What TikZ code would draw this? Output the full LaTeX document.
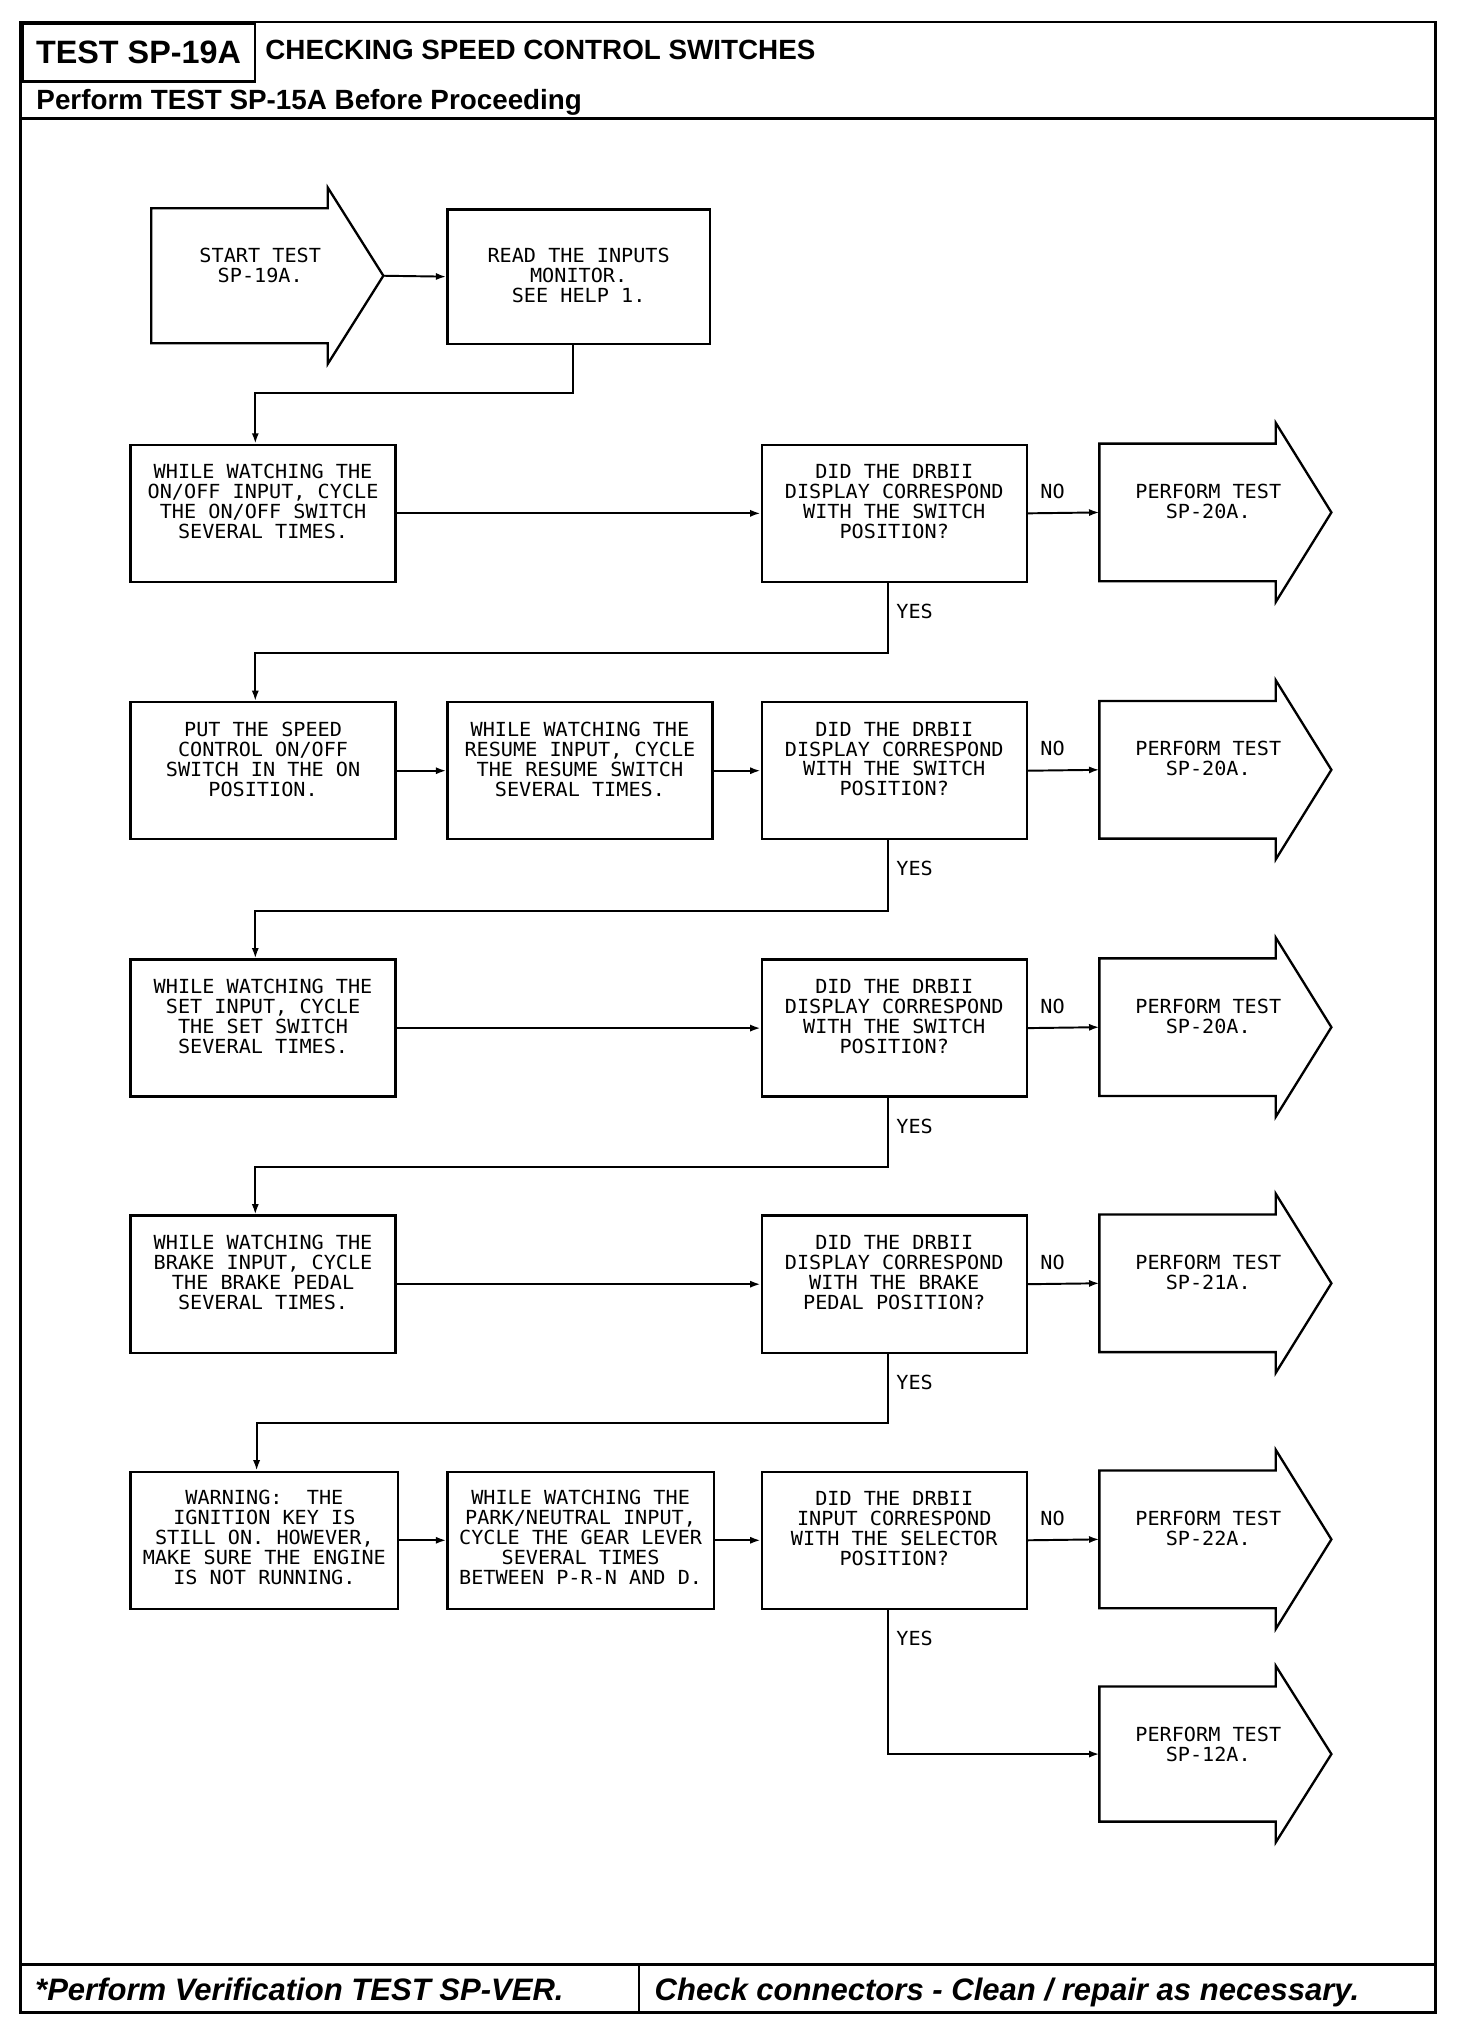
\documentclass[tikz,border=0pt]{standalone}
\usepackage{fontspec}
\usetikzlibrary{arrows.meta}
\newfontfamily\plotfont{DejaVu Sans Mono}[FakeStretch=1.04]
\newfontfamily\hfont{Liberation Sans}

\tikzset{
  frameline/.style={line width=2.2pt},
  shapeline/.style={line width=1.8pt, line join=miter},
  box/.style={draw, shapeline, anchor=north west, inner sep=0pt, minimum width=205pt, minimum height=106pt},
  pbody/.style={anchor=north west, inner sep=0pt, minimum width=136pt, minimum height=106pt},
  txt/.style={font=\plotfont\fontsize{15}{15.4}\selectfont, align=center, inner sep=0pt},
  lbl/.style={font=\plotfont\fontsize{15}{15.4}\selectfont, inner sep=0pt},
  conn/.style={line width=1.5pt, -{Latex[length=8pt,width=5.5pt]}},
  hdr/.style={inner sep=0pt, font=\hfont\bfseries\fontsize{21.5}{24}\selectfont},
  ftr/.style={inner sep=0pt, anchor=base west, font=\hfont\bfseries\itshape\fontsize{24}{28}\selectfont},
}

% name, x, y(top), width, height, text offset, text
\newcommand\FBox[7]{%
  \node[box, minimum width=#4pt, minimum height=#5pt] (#1) at (#2,#3) {};
  \node[txt, anchor=north] (#1t) at ([yshift=-#6pt]#1.north) {#7};
}
% name, x, y(top), height, text offset, text
\newcommand\PArrow[6]{%
  \node[pbody, minimum height=#4pt] (#1) at (#2,#3) {};
  \coordinate (#1tip) at ([xshift=43pt]#1.east);
  \draw[shapeline] (#1.north west) -- (#1.north east) -- ([yshift=16pt]#1.north east)
     -- (#1tip) -- ([yshift=-16pt]#1.south east) -- (#1.south east) -- (#1.south west) -- cycle;
  \node[txt, anchor=north] (#1t) at ([xshift=16pt,yshift=-#5pt]#1.north) {#6};
}

\begin{document}
\begin{tikzpicture}[x=1pt,y=-1pt]
\fill[white] (0,0) rectangle (1138,1568);
\useasboundingbox (0,0) rectangle (1138,1568);

% ---- frame, header, footer
\draw[frameline] (16,17) rectangle (1110,1556);
\node[draw, frameline, anchor=north west, minimum width=180pt, minimum height=45pt, inner sep=0pt,
      font=\hfont\bfseries\fontsize{25}{28}\selectfont] (testbox) at (16,17) {TEST SP-19A};
\node[hdr, anchor=base west] (title) at (205,46) {CHECKING SPEED CONTROL SWITCHES};
\node[hdr, anchor=base west] (subtitle) at (28,85) {Perform TEST SP-15A Before Proceeding};
\draw[frameline] (16,91.5) -- (1110,91.5);
\draw[frameline] (16,1519) -- (1110,1519);
\draw[frameline] (494,1519) -- (494,1556);
\node[ftr] (foot1) at (27,1547) {*Perform Verification TEST SP-VER.};
\node[ftr] (foot2) at (506,1547) {Check connectors - Clean / repair as necessary.};

% ---- row 0
\PArrow{start}{117}{161}{104}{31}{START TEST\\SP-19A.}
\FBox{read}{345}{161}{203}{104}{31}{READ THE INPUTS\\MONITOR.\\SEE HELP 1.}

% ---- row 1
\FBox{a1}{100}{343}{205}{106}{16}{WHILE WATCHING THE\\ON/OFF INPUT, CYCLE\\THE ON/OFF SWITCH\\SEVERAL TIMES.}
\FBox{d1}{588}{343}{205}{106}{16}{DID THE DRBII\\DISPLAY CORRESPOND\\WITH THE SWITCH\\POSITION?}
\PArrow{p1}{850}{343}{106}{31}{PERFORM TEST\\SP-20A.}

% ---- row 2
\FBox{b1}{100}{542}{205}{106}{16}{PUT THE SPEED\\CONTROL ON/OFF\\SWITCH IN THE ON\\POSITION.}
\FBox{b2}{345}{542}{205}{106}{16}{WHILE WATCHING THE\\RESUME INPUT, CYCLE\\THE RESUME SWITCH\\SEVERAL TIMES.}
\FBox{d2}{588}{542}{205}{106}{16}{DID THE DRBII\\DISPLAY CORRESPOND\\WITH THE SWITCH\\POSITION?}
\PArrow{p2}{850}{542}{106}{31}{PERFORM TEST\\SP-20A.}

% ---- row 3
\FBox{c1}{100}{741}{205}{106}{16}{WHILE WATCHING THE\\SET INPUT, CYCLE\\THE SET SWITCH\\SEVERAL TIMES.}
\FBox{d3}{588}{741}{205}{106}{16}{DID THE DRBII\\DISPLAY CORRESPOND\\WITH THE SWITCH\\POSITION?}
\PArrow{p3}{850}{741}{106}{31}{PERFORM TEST\\SP-20A.}

% ---- row 4
\FBox{e1}{100}{939}{205}{106}{16}{WHILE WATCHING THE\\BRAKE INPUT, CYCLE\\THE BRAKE PEDAL\\SEVERAL TIMES.}
\FBox{d4}{588}{939}{205}{106}{16}{DID THE DRBII\\DISPLAY CORRESPOND\\WITH THE BRAKE\\PEDAL POSITION?}
\PArrow{p4}{850}{939}{106}{31}{PERFORM TEST\\SP-21A.}

% ---- row 5
\FBox{f1}{100}{1137}{207}{106}{15}{WARNING:\ \ THE\\IGNITION KEY IS\\STILL ON. HOWEVER,\\MAKE SURE THE ENGINE\\IS NOT RUNNING.}
\FBox{f2}{345}{1137}{206}{106}{15}{WHILE WATCHING THE\\PARK/NEUTRAL INPUT,\\CYCLE THE GEAR LEVER\\SEVERAL TIMES\\BETWEEN P-R-N AND D.}
\FBox{d5}{588}{1137}{205}{106}{16}{DID THE DRBII\\INPUT CORRESPOND\\WITH THE SELECTOR\\POSITION?}
\PArrow{p5}{850}{1137}{106}{31}{PERFORM TEST\\SP-22A.}
\PArrow{p6}{850}{1304}{104}{31}{PERFORM TEST\\SP-12A.}

% ---- connectors
\draw[conn] (starttip) -- (read.west);
\draw[conn] ([xshift=-4.5pt]read.south) |- ([xshift=-6pt,yshift=39pt]a1.north) -- ([xshift=-6pt]a1.north);

\draw[conn] (a1.east) -- (d1.west);
\draw[conn] (d1.east) -- (p1.west);
\draw[conn] ([xshift=-4.5pt]d1.south) |- ([xshift=-6pt,yshift=37pt]b1.north) -- ([xshift=-6pt]b1.north);

\draw[conn] (b1.east) -- (b2.west);
\draw[conn] (b2.east) -- (d2.west);
\draw[conn] (d2.east) -- (p2.west);
\draw[conn] ([xshift=-4.5pt]d2.south) |- ([xshift=-6pt,yshift=37pt]c1.north) -- ([xshift=-6pt]c1.north);

\draw[conn] (c1.east) -- (d3.west);
\draw[conn] (d3.east) -- (p3.west);
\draw[conn] ([xshift=-4.5pt]d3.south) |- ([xshift=-6pt,yshift=37pt]e1.north) -- ([xshift=-6pt]e1.north);

\draw[conn] (e1.east) -- (d4.west);
\draw[conn] (d4.east) -- (p4.west);
\draw[conn] ([xshift=-4.5pt]d4.south) |- ([xshift=-6pt,yshift=37pt]f1.north) -- ([xshift=-6pt]f1.north);

\draw[conn] (f1.east) -- (f2.west);
\draw[conn] (f2.east) -- (d5.west);
\draw[conn] (d5.east) -- (p5.west);
\draw[conn] ([xshift=-4.5pt]d5.south) |- (p6.west);

% ---- labels
\foreach \d in {1,...,5} {
  \node[lbl] (no\d) at ([xshift=19pt,yshift=17pt]d\d.east) {NO};
  \node[lbl, anchor=west] (yes\d) at ([xshift=1.5pt,yshift=-22pt]d\d.south) {YES};
}
\end{tikzpicture}
\end{document}
